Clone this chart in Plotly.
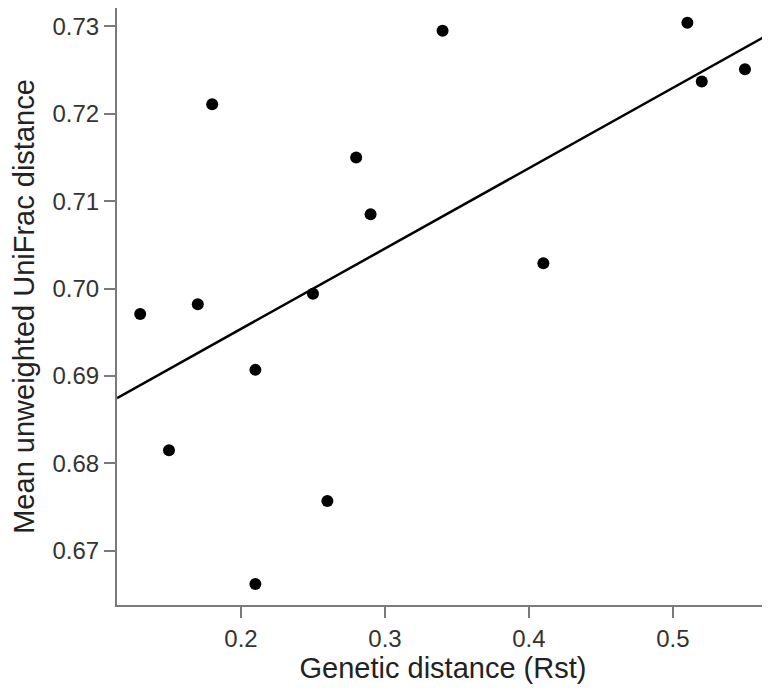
import numpy as np
import plotly.graph_objects as go

# Rst genetic distance vs mean unweighted UniFrac distance
rst = [0.13, 0.15, 0.17, 0.18, 0.21, 0.21, 0.25, 0.26, 0.28, 0.29, 0.34, 0.41, 0.51, 0.52, 0.55]
unifrac = [0.6971, 0.6815, 0.6982, 0.7211, 0.6907, 0.6662, 0.6994, 0.6757,
           0.7150, 0.7085, 0.7295, 0.7029, 0.7304, 0.7237, 0.7251]

x_ticks = [0.2, 0.3, 0.4, 0.5]
y_ticks = [0.67, 0.68, 0.69, 0.70, 0.71, 0.72, 0.73]
y_labels = ["0.67", "0.68", "0.69", "0.70", "0.71", "0.72", "0.73"]

X_RANGE = [0.1139, 0.5667]
Y_RANGE = [0.6638, 0.7321]

FONT = "Liberation Sans, Arial, sans-serif"

# regresion lineal
slope, intercept = np.polyfit(rst, unifrac, 1)
fit_x = np.array(X_RANGE)
fit_y = slope * fit_x + intercept

fig = go.Figure()

fig.add_trace(go.Scatter(
    x=fit_x, y=fit_y,
    mode="lines",
    line=dict(color="black", width=2.5),
    hoverinfo="skip",
))

fig.add_trace(go.Scatter(
    x=rst, y=unifrac,
    mode="markers",
    marker=dict(size=12, color="black", line=dict(width=0)),
))

axis_common = dict(
    showgrid=False,
    zeroline=False,
    showline=True,
    mirror=True,
    linecolor="#7a7a7a",
    linewidth=2,
    ticks="outside",
    ticklen=11,
    tickwidth=2,
    tickcolor="#7a7a7a",
    tickfont=dict(family=FONT, size=24, color="#333333"),
)

fig.update_xaxes(
    **axis_common,
    range=X_RANGE,
    tickvals=x_ticks,
    ticktext=[str(v) for v in x_ticks],
    title=dict(text="Genetic distance (Rst)", standoff=6,
               font=dict(family=FONT, size=29, color="#222222")),
)
fig.update_yaxes(
    **axis_common,
    range=Y_RANGE,
    tickvals=y_ticks,
    ticktext=y_labels,
    title=dict(text="Mean unweighted UniFrac distance", standoff=22,
               font=dict(family=FONT, size=29, color="#222222")),
)

# la pagina pone el grafico 8px abajo/derecha: se compensa en tamaño y margenes
fig.update_layout(
    width=762,
    height=683,
    margin=dict(l=109, r=1, t=0, b=86, autoexpand=False),
    plot_bgcolor="white",
    paper_bgcolor="white",
    showlegend=False,
)

fig.write_html("out.html")
